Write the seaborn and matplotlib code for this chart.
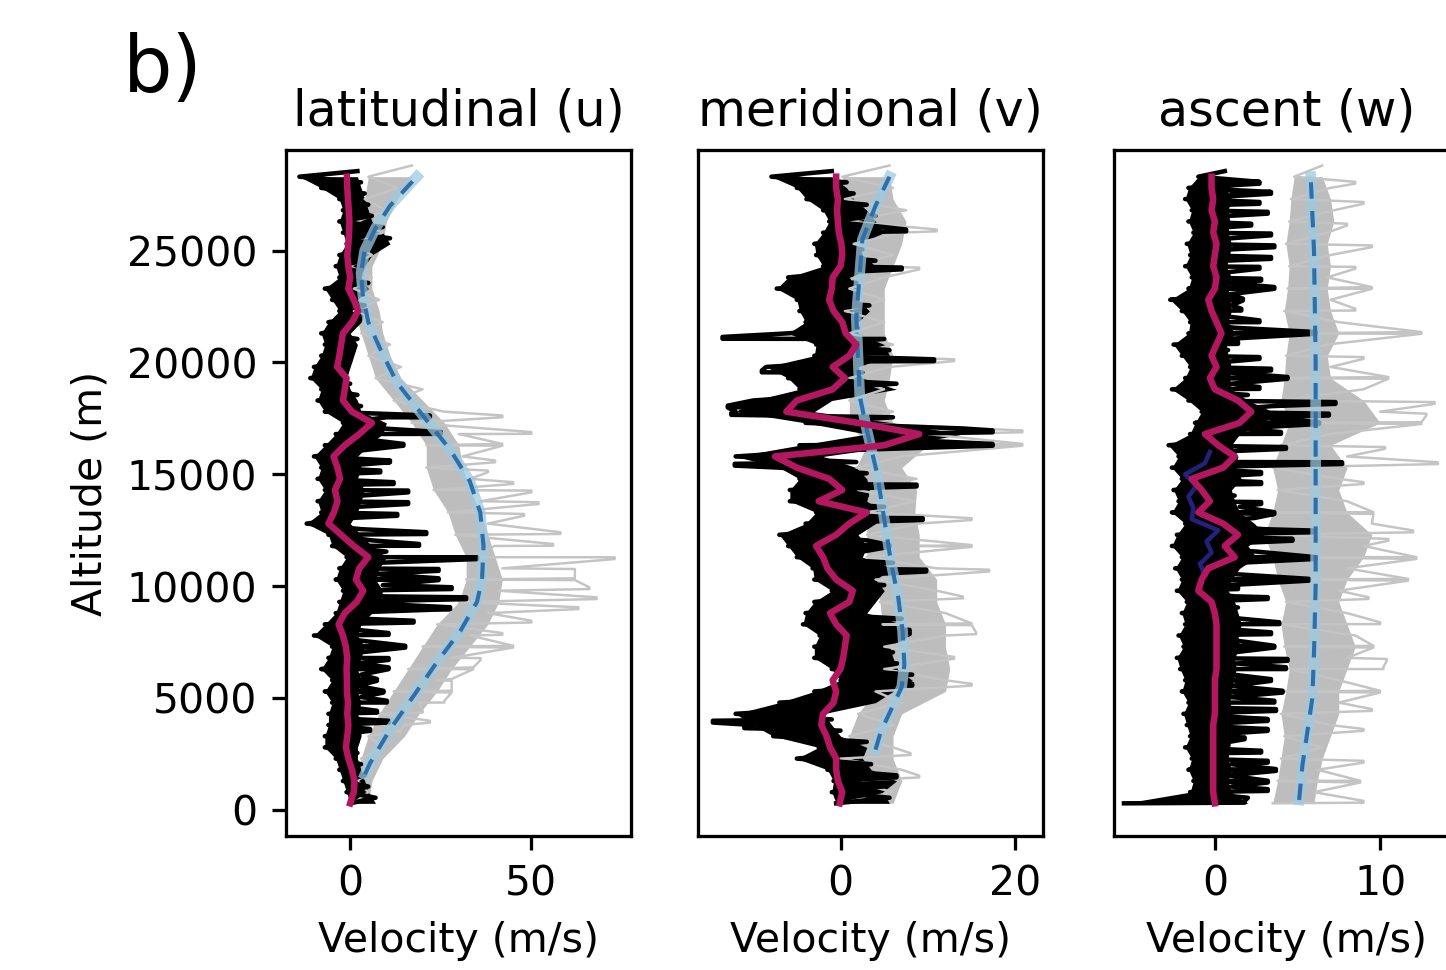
import numpy as np
import pandas as pd
import matplotlib
matplotlib.use("Agg")
import matplotlib.pyplot as plt
import seaborn as sns

# altitude levels of the read-off profiles (m)
ALT = np.arange(300, 28301, 500)        # 57 levels, black band + smoothed line
ALT_GRAY = np.arange(300, 28301, 1000)  # 29 levels, gray (raw) band

# ---------------- latitudinal (u) ----------------
u_black_lo = [0, -1, -2, -3, -4, -7, -7, -6, -6, -5, -7, -5, -8, -6, -5, -10, -7, -4, -3, -2,
              -4, -3, -1, -5, -6, -12, -8, -9, -7, -9, -8, -10, -7, -4, -2, -7, -9, -8, -11, -10,
              -8, -7, -8, -6, -3, -5, -7, -3, -4, -3, -1, -2, -3, -2, -3, -8, -14]
u_black_hi = [7, 5, 4, 3, 2, 2, 3, 3, 2, 3, 2, 3, 2, 3, 4, 2, 3, 6, 8, 9,
              7, 8, 10, 6, 3, 0, 2, 3, 4, 2, 3, 2, 5, 9, 10, 3, 2, 0, -1, 0,
              1, 2, 0, 3, 4, 2, 5, 3, 4, 6, 11, 9, 6, 5, 4, 3, 2]
u_spikes = [(17590, 22), (16850, 25), (16320, 14.7), (15580, 11), (15130, 8.3), (14610, 12),
            (14235, 16), (13715, 16), (13190, 13), (12375, 21), (11850, 19), (11255, 35),
            (10730, 24.4), (10315, 24.4), (9915, 28), (9465, 32), (9020, 27.6), (8420, 17.5),
            (7870, 10.6), (7300, 15.2), (6750, 10.6), (6335, 10.6), (5815, 7.4), (5290, 9.2),
            (4845, 10.1), (4395, 7.4), (3950, 10.6), (3580, 5.5)]
u_smooth = [0, 1.0, 1.2, 0.5, -0.5, -1.2, -0.8, -0.5, -0.8, -0.6, -0.9, -0.9, -1.0, -0.8, -1.2,
            -2.0, -3.2, -1.5, 1.8, 3.6, 1.6, 2.5, 5.0, 1.0, -2.5, -6.0, -4.5, -3.5, -4.2, -2.8,
            -3.5, -4.6, -1.5, 2.5, 6.0, 0.5, -2.0, -1.5, -1.0, -3.6, -3.0, -2.5, -2.0, 0.5, 2.2,
            1.0, -0.5, 0.0, -0.5, -0.8, -0.5, -0.3, -0.2, -0.4, -0.6, -0.8, -0.9]
u_gray_lo = [1, 2, 3, 5, 8, 12, 16, 20, 24, 30, 32, 32, 29, 27, 23, 21, 21, 17, 12, 7,
             5, 3, 1, 1, 0, 1, 2, 4, 5]
u_gray_hi = [5, 6, 9, 15, 19, 24, 28, 33, 38, 41, 42, 40, 38, 36, 33, 31, 30, 26, 20, 14,
             11, 9, 8, 6, 6, 9, 10, 13, 17]
u_gray_spikes = [(17590, 42), (16850, 50), (16320, 42), (15580, 40), (15130, 38), (14610, 45),
                 (14235, 50), (13715, 52), (13190, 48), (12375, 58), (11850, 56), (11255, 73),
                 (10730, 62), (10315, 62), (9915, 66), (9465, 68), (9020, 63), (8420, 50),
                 (7870, 42), (7300, 45), (6750, 36), (6335, 34), (5815, 28), (5290, 28),
                 (4845, 26), (4395, 20), (3950, 22), (3580, 14)]
u_model_alt = [1600, 2100, 3600, 5100, 6600, 8000, 9300, 10300, 11800, 13300, 14700, 16100,
               17600, 19100, 20600, 21800, 23000, 24000, 25000, 26000, 27000, 28300]
u_model = [4.1, 5.5, 11.0, 17.5, 23.9, 30.4, 35.0, 36.4, 36.8, 35.9, 33.0, 27.6,
           20.2, 12.9, 8.3, 5.0, 3.5, 3.0, 4.0, 7.0, 11.0, 18.4]

# ---------------- meridional (v) ----------------
v_black_lo = [-0.5, -1, -0.8, -1.5, -5, -2.5, -7.7, -10, -12, -7, -3, 0, -1, -3, -3, -2.4, -4.3,
              -4, -3, -1, -3, -3.2, -5, -6, -7, -4, -2.8, -5.8, -5.8, -4.7, -7, -12, -4.7, 3,
              -4, -12, -10, -4.7, -6, -8.5, -3, -2.8, -6, -4, -4.7, -5, -7.3, -6, -2, -2.8, -3,
              -2, -1.3, -2, -3.9, -5, -7.9]
v_black_hi = [5.6, 4.8, 6.4, 3.5, 2.5, 3, 0, -1, -2, 4, 6, 8.2, 6.5, 6, 5.6, 7.9, 7, 3, 4, 5,
              4, 6, 2.5, 3, 2, 4, 5, 3, 3.3, 3, 1.8, -2, 7, 14, 6, -3, -1, 6.4, 2.5, 2, 5.6, 5,
              2, 2, 3.3, 2, 1.8, 1, 4, 2.5, 2, 5, 4, 3, 1.5, 0.7, -1]
v_spikes = [(3950, -14.6), (3700, -11), (15430, -12.1), (21100, -13.5), (18030, -12.9),
            (17700, -12.5), (19600, -9), (25900, 7.5), (24200, 7), (20100, 10.7), (16920, 17.4),
            (16320, 17.4), (14500, 8.7), (13000, 9.4), (10700, 9.8), (11800, 5.6), (5600, 8.2),
            (7900, 7.9), (1500, 6.4)]
v_smooth = [-0.1, 0.2, -0.3, -0.5, -0.5, -1.2, -1.6, -2.2, -2.0, -0.8, -0.5, -0.9, 0.0, 0.3, 0.5,
            0.7, -0.5, -1.2, 1.0, 1.4, -0.5, -1.5, -2.0, -2.8, -0.5, 1.0, 3.0, -2.5, 0.2, -1.3,
            -5.0, -7.5, 5.0, 9.0, 2.0, -6.2, -5.0, -0.9, 0.5, -0.9, 1.0, 1.8, 0.6, 0.2, -0.8,
            -1.3, -1.0, -0.9, 0.0, 0.2, 0.1, -0.2, -0.3, -0.4, -0.3, -0.5, -0.5]
v_gray_lo = [0, 1, 0, 1, 2, 4, 5, 5, 4.8, 4.5, 4, 3, 3, 3, 2, 1.8, 3, 1, 1, 1,
             1, 1, 0.5, 1, 1, 1.5, 1, 0.5, 0.2]
v_gray_hi = [6, 7, 6, 6, 7, 12, 12.5, 12, 12, 11, 11, 9, 9, 8.5, 8.7, 7, 10, 6, 5, 5.6,
             6, 5, 5, 5, 6, 7, 7.5, 6, 5.6]
v_gray_spikes = [(16920, 20.8), (16320, 20.8), (20100, 13), (25900, 11), (24200, 9), (13000, 15),
                 (10700, 17), (11800, 15), (8300, 15), (7900, 15.5), (5600, 15), (6800, 13),
                 (9500, 14), (1500, 9), (2500, 8)]
v_model_alt = [2700, 3500, 4500, 5500, 6500, 8000, 9500, 11000, 13000, 15000, 17000, 18500,
               22000, 25500, 27000, 28300]
v_model = [4.0, 4.6, 5.8, 7.0, 7.3, 7.1, 6.6, 5.8, 5.0, 4.2, 3.0, 2.2, 1.8, 2.5, 4.0, 5.6]

# ---------------- ascent (w) ----------------
w_black_lo = [-5.5, -1.5, -1.3, -1.6, -1.4, -1.8, -1.5, -1.7, -1.9, -1.6, -2.0, -1.8, -2.1, -2.3,
              -1.9, -2.2, -1.8, -2.0, -1.7, -2.3, -2.0, -2.4, -2.0, -2.6, -2.3, -1.8, -2.6, -2.2,
              -2.5, -2.0, -2.6, -2.2, -2.8, -1.5, -1.2, -0.8, -1.6, -2.6, -1.8, -1.5, -2.0, -2.5,
              -1.6, -1.5, -2.0, -2.7, -1.6, -1.4, -1.8, -1.5, -1.7, -1.3, -1.6, -1.4, -1.8, -1.6,
              -1.0]
w_black_hi = [2.0, 1.0, 0.8, 1.0, 0.8, 0.9, 1.0, 0.8, 1.1, 0.9, 1.0, 1.1, 1.3, 1.2, 1.5, 1.4,
              1.6, 1.4, 1.2, 0.8, 1.0, 1.5, 2.5, 2.0, 3.0, 2.4, 1.5, 1.2, 1.0, 1.6, 1.2, 1.4, 1.0,
              1.5, 3.0, 3.5, 2.0, 1.0, 0.9, 1.0, 0.8, 0.7, 1.2, 0.8, 1.0, 0.9, 0.8, 1.0, 0.7, 0.9,
              1.0, 0.8, 0.9, 0.8, 1.0, 0.7, 0.6]
w_spikes = [(28030, 2.7), (27580, 3.4), (27130, 2.7), (26690, 3.2), (26160, 2.2), (25720, 3.4),
            (25190, 3.6), (24670, 3.4), (24230, 2.7), (23700, 2.8), (23330, 3.6), (22810, 1.7),
            (22360, 1.6), (21840, 2.7), (21320, 6.1), (20870, 1.4), (20200, 2.7), (19680, 3.4),
            (19310, 4.4), (18860, 2.7), (18190, 7.3), (17670, 6.9), (17290, 6.3), (16850, 4.0),
            (16180, 4.3), (15500, 7.7), (15060, 2.8), (14610, 2.8), (13720, 2.8), (13270, 3.6),
            (12450, 5.9), (12075, 4.7), (11260, 6.1), (10290, 5.7), (9915, 1.4), (9470, 3.2),
            (8350, 3.9), (7900, 3.4), (7300, 3.6), (6710, 4.4), (6340, 4.3), (5810, 3.4),
            (5290, 4.1), (4845, 3.6), (4470, 3.7), (4025, 3.2), (3580, 3.2), (3205, 1.8),
            (2610, 2.8), (2160, 3.2), (1790, 3.7), (1270, 3.2), (895, 3.2), (370, 1.8)]
w_smooth = [0, -0.1, -0.1, -0.1, -0.1, -0.1, -0.1, -0.1, 0.0, 0.0, 0.0, 0.0, 0.1, 0.1, 0.1, 0.1,
            0.1, 0.0, -0.2, -1.0, -0.8, -0.4, 1.2, 0.6, 1.4, 0.5, -1.0, -0.3, -0.8, -1.4, 0.5,
            1.2, 0.2, -0.6, 1.5, 2.2, 1.4, 0.0, -0.3, 0.1, -0.2, 0.1, 0.4, 0.1, -0.2, -0.4, 0.0,
            0.1, -0.1, 0.0, 0.1, -0.1, 0.0, -0.2, -0.1, -0.2, -0.2]
w_navy_alt = [10500, 11000, 11500, 12000, 12500, 13000, 13500, 14000, 14500, 15000, 15500, 16000]
w_navy = [-0.6, -0.9, -0.2, -0.5, 0.2, -1.4, -1.3, -1.6, -1.1, -1.8, -0.6, -0.3]
w_gray_lo = [3.5, 3.8, 4.0, 4.2, 4.0, 4.3, 4.5, 4.2, 4.0, 4.3, 3.8, 3.5, 3.0, 3.5, 3.8, 3.5,
             4.0, 4.5, 4.0, 4.2, 4.3, 4.5, 4.2, 4.4, 4.5, 4.3, 4.5, 4.6, 4.8]
w_gray_hi = [6.0, 6.2, 6.5, 7.0, 7.5, 7.5, 8.0, 8.5, 8.0, 7.5, 8.0, 9.0, 9.5, 8.0, 7.5, 8.0,
             7.0, 10.0, 9.0, 7.0, 6.8, 7.5, 7.0, 6.8, 7.0, 6.8, 7.2, 7.0, 6.5]
w_gray_spikes = [(28030, 8.5), (27130, 9.0), (26160, 8.0), (25190, 9.5), (24230, 8.5),
                 (23330, 9.5), (22360, 8.5), (21320, 12.5), (20200, 9), (19310, 10.5),
                 (18190, 13.3), (17670, 12.8), (17290, 12.5), (16180, 10.3), (15500, 13.5),
                 (14610, 9), (13270, 9.6), (12450, 12), (12075, 10.5), (11260, 12.2),
                 (10290, 11.7), (9470, 9.3), (8350, 10), (7300, 9.6), (6710, 10.4), (6340, 10.2),
                 (5290, 10), (4470, 9.5), (3580, 9), (2160, 9), (1270, 8.8), (370, 9)]
w_model_alt = [450, 2000, 3500, 5000, 7000, 10000, 15000, 20000, 25000, 28300]
w_model = [5.1, 5.3, 5.6, 5.9, 6.0, 6.1, 6.1, 6.1, 6.0, 5.8]

TITLES = ["latitudinal (u)", "meridional (v)", "ascent (w)"]
XTICKS = [[0, 50], [0, 20], [0, 10]]
XLIMS = [(-17.7, 77.6), (-16.3, 23.2), (-6.1, 14.8)]

GRAY = "#bdbdbd"
MAGENTA = "#b3175f"


def band_frame(alt, lo, hi, spikes):
    # zig-zag between left and right envelope, spikes as short horizontal bars
    step = alt[1] - alt[0]
    rows = [(a, v) for a, v in zip(alt, lo)]
    rows += [(a + step / 2, v) for a, v in zip(alt, hi)]
    for a, v in spikes:
        rows += [(a - 40, v), (a + 40, v)]
    return pd.DataFrame(rows, columns=["alt", "vel"])


def draw_panel(ax, black, gray, smooth, model_alt, model, extra=None):
    kw = dict(x="vel", y="alt", orient="y", estimator=None, ax=ax)
    # raw profile (gray)
    ax.fill_betweenx(ALT_GRAY, gray[1], gray[2], color=GRAY, lw=0)
    sns.lineplot(data=band_frame(ALT_GRAY, gray[1], gray[2], gray[3]),
                 color="#c4c4c4", lw=0.6, **kw)
    # perturbation profile (black)
    ax.fill_betweenx(ALT, black[1], black[2], color="black", lw=0)
    sns.lineplot(data=band_frame(ALT, black[1], black[2], black[3]),
                 color="black", lw=1.1, **kw)
    # fitted background wind
    mod = pd.DataFrame({"alt": model_alt, "vel": model})
    sns.lineplot(data=mod, color="#9ecae1", lw=2.6, alpha=0.75, **kw)
    sns.lineplot(data=mod, color="#2f6ea6", lw=1.0, linestyle=(0, (4, 3)), **kw)
    if extra is not None:
        sns.lineplot(data=extra, color="#2b2890", lw=1.1, alpha=0.85, **kw)
    sm = pd.DataFrame({"alt": ALT, "vel": smooth})
    sns.lineplot(data=sm, color=MAGENTA, lw=1.6, **kw)


fig = plt.figure(figsize=(4.902, 3.289), dpi=295)
lefts = [0.1978, 0.4827, 0.7704]
axes = [fig.add_axes([l, 0.1381, 0.2388, 0.7072]) for l in lefts]

draw_panel(axes[0], (None, u_black_lo, u_black_hi, u_spikes),
           (None, u_gray_lo, u_gray_hi, u_gray_spikes),
           u_smooth, u_model_alt, u_model)
draw_panel(axes[1], (None, v_black_lo, v_black_hi, v_spikes),
           (None, v_gray_lo, v_gray_hi, v_gray_spikes),
           v_smooth, v_model_alt, v_model)
draw_panel(axes[2], (None, w_black_lo, w_black_hi, w_spikes),
           (None, w_gray_lo, w_gray_hi, w_gray_spikes),
           w_smooth, w_model_alt, w_model,
           extra=pd.DataFrame({"alt": w_navy_alt, "vel": w_navy}))

for i, ax in enumerate(axes):
    ax.set_title(TITLES[i])
    ax.set_xlim(*XLIMS[i])
    ax.set_ylim(-1160, 29500)
    ax.set_xticks(XTICKS[i])
    ax.set_xlabel("Velocity (m/s)")
    if i == 0:
        ax.set_yticks([0, 5000, 10000, 15000, 20000, 25000])
        ax.set_ylabel("Altitude (m)")
    else:
        ax.set_yticks([])
        ax.set_ylabel("")

fig.text(0.085, 0.905, "b)", fontsize=19, va="baseline", ha="left")

fig.savefig("out.png", dpi=295)
